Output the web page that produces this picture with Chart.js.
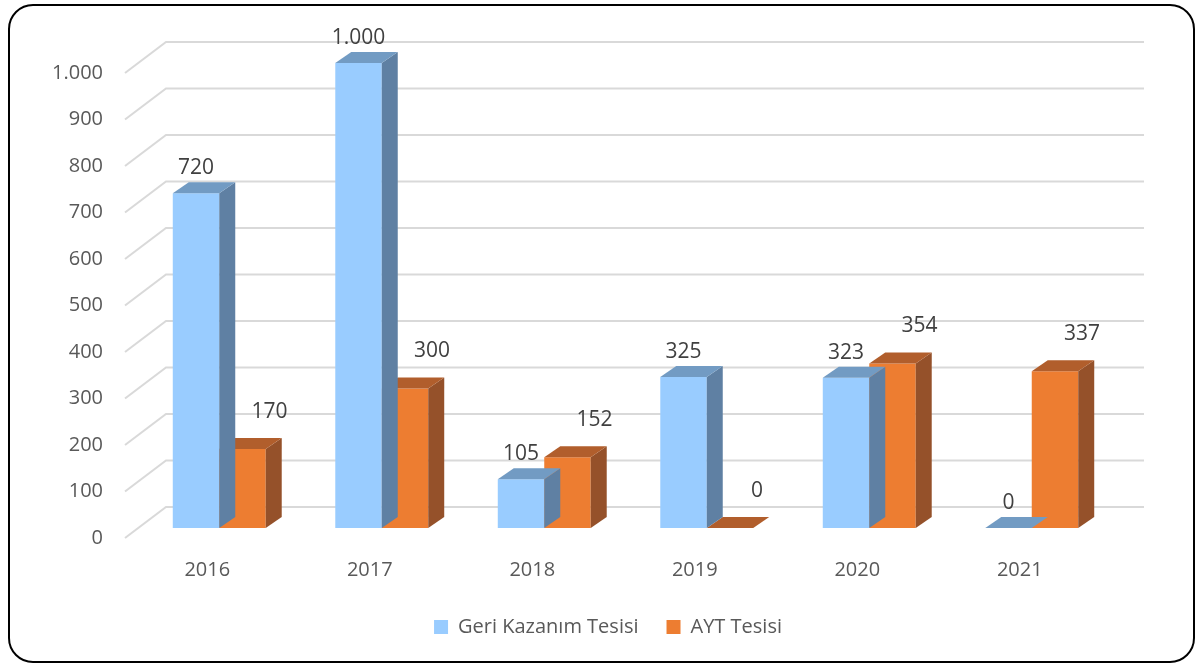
<!DOCTYPE html>
<html><head><meta charset="utf-8">
<script src="https://cdn.jsdelivr.net/npm/chart.js@4.4.1/dist/chart.umd.min.js"></script>
<style>html,body{margin:0;padding:0;background:#fff;overflow:hidden}#wrap{width:1196px;height:664px;position:relative}canvas{display:block}</style>
</head><body><div id="wrap"><canvas id="c" width="1196" height="664"></canvas></div>
<script>
const categories = ['2016', '2017', '2018', '2019', '2020', '2021'];
const geriKazanim = [720, 1000, 105, 325, 323, 0];
const aytTesisi = [170, 300, 152, 0, 354, 337];
const seriesNames = ['Geri Kazanım Tesisi', 'AYT Tesisi'];
const yMin = 0, yMax = 1000, yStep = 100;

const FRONT = ['#99CCFF', '#ED7D31'];
const TOP = ['#729BC3', '#B15E2C'];
const SIDE = ['#5F80A3', '#95512A'];
const LABEL_OFF = [[0, -25], [27, -37]];
const DX = 16, DY = -11;
const FONT = '"Open Sans", sans-serif';

function fmt(v) { return String(v).replace(/\B(?=(\d{3})+(?!\d))/g, '.'); }

const depthPlugin = {
  id: 'depth3d',
  beforeDraw(chart) {
    const ctx = chart.ctx;
    ctx.save();
    ctx.fillStyle = '#fff';
    ctx.fillRect(0, 0, chart.width, chart.height);
    ctx.restore();
  },
  beforeDatasetsDraw(chart) {
    const { ctx, chartArea: a, scales: { y } } = chart;
    ctx.save();
    ctx.strokeStyle = '#D9D9D9';
    ctx.lineWidth = 2;
    y.ticks.forEach(t => {
      const p = y.getPixelForValue(t.value);
      ctx.beginPath();
      ctx.moveTo(a.left - 13, p + 10);
      ctx.lineTo(a.left + 28, p - 21);
      ctx.lineTo(a.right + 31, p - 21);
      ctx.stroke();
    });
    ctx.restore();
  },
  afterDatasetDraw(chart, args) {
    const ctx = chart.ctx;
    const i = args.index;
    ctx.save();
    args.meta.data.forEach(bar => {
      const { x, y, base, width } = bar.getProps(['x', 'y', 'base', 'width'], true);
      const l = x - width / 2, r = x + width / 2;
      ctx.fillStyle = SIDE[i];
      ctx.beginPath();
      ctx.moveTo(r, y); ctx.lineTo(r + DX, y + DY); ctx.lineTo(r + DX, base + DY); ctx.lineTo(r, base);
      ctx.closePath(); ctx.fill();
      ctx.fillStyle = TOP[i];
      ctx.beginPath();
      ctx.moveTo(l, y); ctx.lineTo(l + DX, y + DY); ctx.lineTo(r + DX, y + DY); ctx.lineTo(r, y);
      ctx.closePath(); ctx.fill();
    });
    ctx.restore();
  },
  afterDatasetsDraw(chart) {
    const ctx = chart.ctx;
    ctx.save();
    ctx.font = '21px ' + FONT;
    ctx.fillStyle = '#404040';
    ctx.textAlign = 'center';
    ctx.textBaseline = 'middle';
    chart.data.datasets.forEach((ds, i) => {
      chart.getDatasetMeta(i).data.forEach((bar, j) => {
        const { x, y } = bar.getProps(['x', 'y'], true);
        ctx.fillText(fmt(ds.data[j]), x + LABEL_OFF[i][0], y + LABEL_OFF[i][1]);
      });
    });
    ctx.restore();
  },
  afterDraw(chart) {
    const ctx = chart.ctx;
    ctx.save();
    ctx.strokeStyle = '#000';
    ctx.lineWidth = 2;
    ctx.beginPath();
    ctx.roundRect(9, 5, 1185, 657, 24);
    ctx.stroke();
    ctx.restore();
  }
};

new Chart(document.getElementById('c'), {
  type: 'bar',
  data: {
    labels: categories,
    datasets: [
      { label: seriesNames[0], data: geriKazanim, backgroundColor: FRONT[0], borderWidth: 0 },
      { label: seriesNames[1], data: aytTesisi, backgroundColor: FRONT[1], borderWidth: 0 }
    ]
  },
  options: {
    responsive: false,
    animation: false,
    devicePixelRatio: 1,
    layout: { padding: { top: 63, right: 0, bottom: 17, left: 20 } },
    datasets: { bar: { barPercentage: 1, categoryPercentage: 0.572 } },
    plugins: {
      tooltip: { enabled: false },
      legend: {
        position: 'bottom',
        labels: {
          boxWidth: 14, boxHeight: 14, padding: 28,
          color: '#595959',
          font: { family: FONT, size: 20 }
        }
      }
    },
    scales: {
      x: {
        grid: { display: false, drawTicks: false },
        border: { display: false },
        ticks: { color: '#595959', font: { family: FONT, size: 20 }, padding: 30, labelOffset: -12 },
        afterFit(s) { s.height = 61; }
      },
      y: {
        min: yMin, max: yMax,
        grid: { display: false, drawTicks: false },
        border: { display: false },
        ticks: {
          stepSize: yStep, color: '#595959', font: { family: FONT, size: 20 },
          padding: 35, labelOffset: 10,
          callback: v => fmt(v)
        },
        afterFit(s) { s.width = 118; }
      },
      yRight: {
        type: 'linear',
        position: 'right',
        min: yMin, max: yMax,
        grid: { display: false, drawTicks: false },
        border: { display: false },
        ticks: { display: false },
        afterFit(s) { s.width = 83; }
      }
    }
  },
  plugins: [depthPlugin]
});
</script>
</body></html>
